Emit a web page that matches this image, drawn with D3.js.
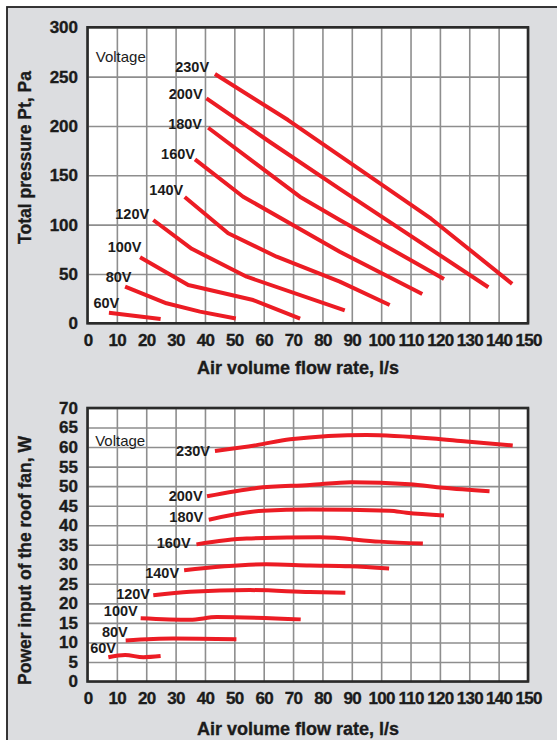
<!DOCTYPE html>
<html>
<head>
<meta charset="utf-8">
<script src="https://cdn.jsdelivr.net/npm/d3@7/dist/d3.min.js"></script>
<style>
    body { margin: 0; background: #fff; }
    svg { display: block; font-family: "Liberation Sans", Arial, sans-serif; }
    .grid line { stroke: #8e8e8e; stroke-width: 1.6; }
    .grid path { display: none; }
    .axis path { display: none; }
    .axis text { font-size: 17px; font-weight: bold; fill: #1b1b1b; stroke: #1b1b1b; stroke-width: 0.35;
        font-family: "Liberation Sans", Arial, sans-serif; }
    .axis.x text { letter-spacing: -0.7px; }
    .title { font-size: 17.5px; font-weight: bold; fill: #1b1b1b; stroke: #1b1b1b; stroke-width: 0.35; }
    .volt { font-size: 14.5px; font-weight: bold; fill: #1b1b1b; }
    .note { font-size: 15px; fill: #1b1b1b; }
    .curve { fill: none; stroke: #ec1c24; stroke-width: 4; stroke-linejoin: round; }
</style>
</head>
<body>
<div id="chart"></div>
<script>
// tick values
var flowTicks = [0, 10, 20, 30, 40, 50, 60, 70, 80, 90, 100, 110, 120, 130, 140, 150];
var pressureTicks = [0, 50, 100, 150, 200, 250, 300];
var powerTicks = [0, 5, 10, 15, 20, 25, 30, 35, 40, 45, 50, 55, 60, 65, 70];

var voltages = ['230V', '200V', '180V', '160V', '140V', '120V', '100V', '80V', '60V'];

// total pressure (Pa) vs flow (l/s)
var pressure230 = [[43.4, 252.6], [68.3, 206], [117, 106], [144.6, 40]];
var pressure200 = [[40.5, 228], [62, 184], [86, 136], [136.5, 36.5]];
var pressure180 = [[41.1, 198.2], [72.3, 128.3], [85.9, 104.7], [121.4, 44.9]];
var pressure160 = [[36.6, 166.2], [53, 128.3], [85.9, 72.5], [114, 29.7]];
var pressure140 = [[33.1, 128], [47.9, 91.2], [64.4, 67.5], [85.9, 42.2], [102.9, 18.5]];
var pressure120 = [[22.4, 104.7], [35.5, 75.5], [54.2, 47.2], [87.6, 13]];
var pressure100 = [[17.9, 66.9], [34.3, 38.8], [56.4, 23.6], [72.4, 4.8]];
var pressure80 = [[12.8, 37.1], [26.9, 20.3], [38.3, 11.8], [50.5, 4.8]];
var pressure60 = [[7.3, 10.7], [24.9, 4.4]];
// where each voltage label ends (flow, pressure)
var pressureLabelAt = [[41.4, 255.1], [39.2, 227.6], [39, 196.6], [36.6, 166.2], [32.6, 130],
    [21, 105.4], [18.4, 72.5], [15, 42.1], [10.8, 15.8]];

// power input (W) vs flow (l/s)
var power230 = [[43.4, 59], [57.6, 60.5], [69, 62], [95, 63.1], [117.6, 62.2], [129, 61.4], [144.8, 60.4]];
var power200 = [[40.7, 47.4], [57.6, 49.5], [75.7, 50.3], [89.9, 51], [109.7, 50.5], [121, 49.6], [136.9, 48.7]];
var power180 = [[41.3, 41.4], [59.8, 43.7], [75.7, 44], [102.9, 43.7], [108.6, 43.2], [121.4, 42.5]];
var power160 = [[37.1, 35.1], [54.2, 36.6], [79.1, 36.9], [99.5, 35.8], [114.2, 35.3]];
var power140 = [[32.9, 28.5], [60.9, 30], [75.7, 29.7], [89.3, 29.5], [102.7, 28.9]];
var power120 = [[22.4, 22.1], [34.9, 23], [55.3, 23.4], [75.7, 22.9], [87.8, 22.7]];
var power100 = [[18.1, 16.2], [34.9, 15.8], [44, 16.5], [72.6, 15.9]];
var power80 = [[13, 10.5], [29.2, 11], [50.7, 10.8]];
var power60 = [[7.1, 6.2], [12.8, 6.8], [19, 6.2], [24.9, 6.5]];
var powerLabelAt = [[41.7, 57.6], [39.2, 46.3], [39.4, 40.7], [35.1, 34.2], [31.2, 26.4],
    [21.3, 21.2], [17.1, 16.8], [13.7, 11.5], [9.7, 7.2]];

var width = 557,
    height = 740;

var svg = d3.select('#chart').append('svg')
    .attr('width', width)
    .attr('height', height);

// grey panel behind both charts
svg.append('rect')
    .attr('x', 7).attr('y', 7)
    .attr('width', width).attr('height', height)
    .attr('fill', '#dcdde0')
    .attr('stroke', '#222')
    .attr('stroke-width', 1.8);

var xScale = d3.scaleLinear().domain([0, 150]).range([87.5, 528]);

var drawChart = function (opt) {
    var yScale = d3.scaleLinear().domain([0, opt.yMax]).range([opt.bottom, opt.top]);
    var plotW = xScale.range()[1] - xScale.range()[0];
    var plotH = opt.bottom - opt.top;
    var g = svg.append('g');

    g.append('rect')
        .attr('x', xScale(0)).attr('y', opt.top)
        .attr('width', plotW).attr('height', plotH)
        .attr('fill', '#fff');

    // grid
    g.append('g')
        .attr('class', 'grid')
        .attr('transform', 'translate(0,' + opt.bottom + ')')
        .call(d3.axisBottom(xScale).tickValues(flowTicks).tickSize(-plotH).tickFormat(''));
    g.append('g')
        .attr('class', 'grid')
        .attr('transform', 'translate(' + xScale(0) + ',0)')
        .call(d3.axisLeft(yScale).tickValues(opt.yTicks).tickSize(-plotW).tickFormat(''));

    g.append('rect')
        .attr('x', xScale(0)).attr('y', opt.top)
        .attr('width', plotW).attr('height', plotH)
        .attr('fill', 'none')
        .attr('stroke', '#2a2a2a')
        .attr('stroke-width', 2.6);

    // axes labels
    g.append('g')
        .attr('class', 'axis x')
        .attr('transform', 'translate(0,' + opt.bottom + ')')
        .call(d3.axisBottom(xScale).tickValues(flowTicks).tickSize(0).tickPadding(opt.xPad))
        .attr('font-family', null).attr('font-size', null);
    g.append('g')
        .attr('class', 'axis y')
        .attr('transform', 'translate(' + xScale(0) + ',0)')
        .call(d3.axisLeft(yScale).tickValues(opt.yTicks).tickSize(0).tickPadding(9.5))
        .attr('font-family', null).attr('font-size', null);

    g.append('text')
        .attr('class', 'title')
        .attr('x', 298).attr('y', opt.xTitleY)
        .attr('text-anchor', 'middle')
        .style('font-size', '18px')
        .text('Air volume flow rate, l/s');

    g.append('text')
        .attr('class', 'title')
        .attr('transform', 'translate(31,' + opt.yTitleY + ') rotate(-90)')
        .attr('text-anchor', 'middle')
        .text(opt.yTitle);

    g.append('text')
        .attr('class', 'note')
        .attr('x', xScale(opt.noteAt[0])).attr('y', yScale(opt.noteAt[1]))
        .text('Voltage');

    var line = d3.line()
        .x(function (d) { return xScale(d[0]); })
        .y(function (d) { return yScale(d[1]); })
        .curve(opt.curve);

    g.selectAll('path.curve')
        .data(opt.series)
        .enter().append('path')
        .attr('class', 'curve')
        .attr('d', line);

    g.selectAll('text.volt')
        .data(voltages)
        .enter().append('text')
        .attr('class', 'volt')
        .attr('text-anchor', 'end')
        .attr('x', function (d, i) { return xScale(opt.labelAt[i][0]); })
        .attr('y', function (d, i) { return yScale(opt.labelAt[i][1]); })
        .text(function (d) { return d; });
};

drawChart({
    top: 27.3, bottom: 323.3, yMax: 300, yTicks: pressureTicks,
    xPad: 11, xTitleY: 374, yTitleY: 157.5,
    yTitle: 'Total pressure Pt, Pa',
    noteAt: [2.8, 265],
    series: [pressure230, pressure200, pressure180, pressure160, pressure140,
        pressure120, pressure100, pressure80, pressure60],
    labelAt: pressureLabelAt,
    curve: d3.curveLinear
});

drawChart({
    top: 408, bottom: 681.5, yMax: 70, yTicks: powerTicks,
    xPad: 10, xTitleY: 735, yTitleY: 560.5,
    yTitle: 'Power input of the roof fan, W',
    noteAt: [2.6, 60.3],
    series: [power230, power200, power180, power160, power140,
        power120, power100, power80, power60],
    labelAt: powerLabelAt,
    curve: d3.curveMonotoneX
});
</script>
</body>
</html>
